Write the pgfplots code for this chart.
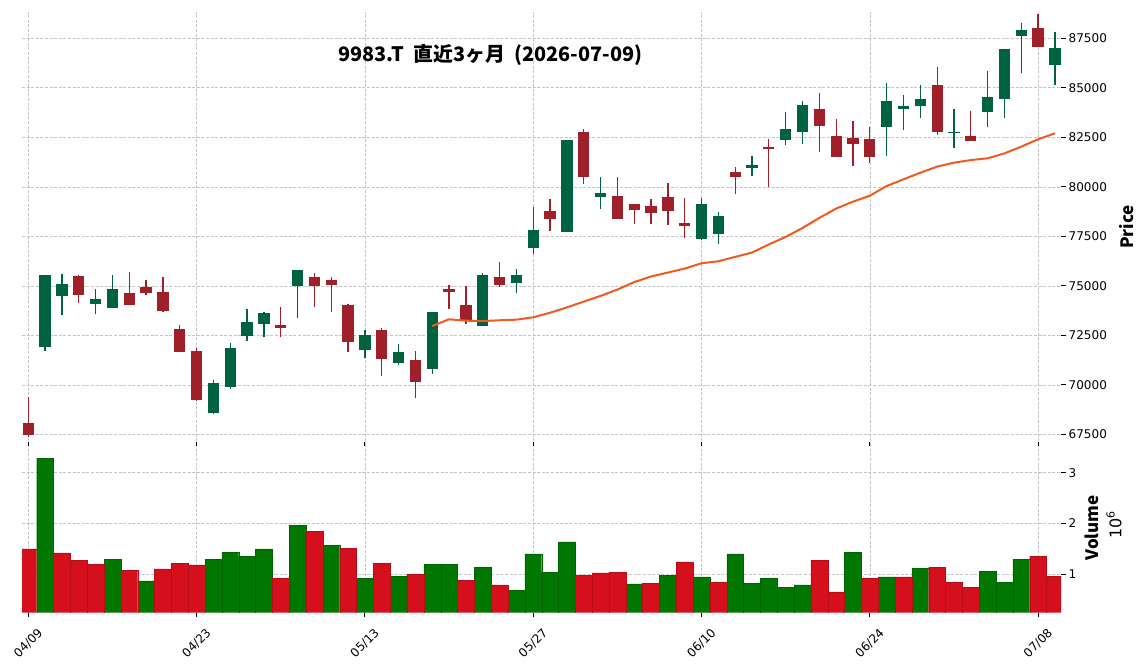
\documentclass[border=0pt]{standalone}
\usepackage{pgfplots}
\usepackage{pgfplotstable}
\pgfplotsset{compat=1.18}
\usepackage{fontspec}
\setmainfont{DejaVu Sans}
\newfontfamily\cjk{Noto Sans CJK JP}
\definecolor{cup}{HTML}{00633F}
\definecolor{cdn}{HTML}{A0202A}
\definecolor{vup}{HTML}{007700}
\definecolor{vdn}{HTML}{D5101C}
\definecolor{maline}{HTML}{F05A1E}
\definecolor{gridc}{HTML}{C4C4C4}

% rising candles (close >= open): index open high low close
\pgfplotstableread{
i o h l c
1 71930 75560 71710 75550
2 74500 75580 73510 75090
4 74100 74820 73560 74340
5 73900 75550 73880 74840
11 68590 70230 68540 70090
12 69910 72100 69800 71860
13 72480 73810 72230 73170
14 73090 73680 72400 73630
16 75010 75810 73360 75800
20 71770 72770 71340 72520
22 71100 72050 71020 71660
24 70820 73700 70550 73680
27 72970 75660 72950 75550
29 75160 75840 74620 75550
30 76930 79000 76590 77820
32 77720 82380 77700 82360
34 79500 80480 78870 79690
40 77380 79420 77300 79130
41 77630 78710 77100 78530
43 80970 81540 80530 81100
45 82380 83760 82100 82920
46 82780 84330 82150 84130
51 83040 85230 81560 84350
52 83950 84620 82870 84080
53 84100 85130 83460 84440
55 82710 83920 81950 82750
57 83790 85860 83010 84520
58 84440 86960 83460 86950
59 87630 88260 85730 87920
61 86170 87800 85130 87010
}\CandUp

% falling candles (close < open)
\pgfplotstableread{
i o h l c
0 68090 69370 67370 67450
3 75500 75530 74120 74550
6 74640 75680 74020 74050
7 74940 75280 74550 74640
8 74690 75430 73700 73730
9 72820 73010 71650 71670
10 71710 71850 69200 69250
15 73020 73920 72400 72890
17 75450 75630 73950 75010
18 75290 75430 73690 75060
19 74030 74100 71640 72180
21 72770 72860 70460 71320
23 71250 71710 69320 70140
25 74840 75030 73810 74700
26 74030 74990 73070 73240
28 75450 76190 74930 75060
31 78780 79370 77750 78390
33 82770 82910 80130 80510
35 79540 80480 78380 78390
36 79130 79150 78110 78840
37 79030 79370 78110 78690
38 79490 80180 78060 78790
39 78170 79420 77400 78040
42 80750 80990 79620 80510
44 82010 82400 79980 81930
47 83930 84720 81740 83090
48 82570 83410 81500 81520
49 82480 83310 81040 82180
50 82420 83040 81190 81520
54 85140 86070 82620 82780
56 82570 83830 82300 82330
60 88020 88730 87050 87080
}\CandDn

% 25-day moving average
\pgfplotstableread{
i ma
24 72970
25 73310
26 73240
27 73220
28 73260
29 73290
30 73410
31 73640
32 73910
33 74200
34 74490
35 74810
36 75190
37 75470
38 75670
39 75870
40 76140
41 76240
42 76460
43 76680
44 77090
45 77470
46 77920
47 78430
48 78900
49 79250
50 79550
51 80040
52 80380
53 80710
54 81020
55 81220
56 81350
57 81440
58 81690
59 82030
60 82400
61 82700
}\MA

% volume (millions), close above previous close
\pgfplotstableread{
i v
1 3.29
5 1.297
7 0.863
11 1.297
12 1.435
13 1.356
14 1.495
16 1.968
18 1.573
20 0.922
22 0.961
24 1.198
25 1.198
27 1.139
29 0.685
30 1.396
31 1.040
32 1.633
36 0.804
38 0.981
40 0.942
42 1.396
43 0.823
44 0.922
45 0.744
46 0.784
49 1.435
51 0.942
53 1.119
57 1.060
58 0.843
59 1.297
}\VolUp

% volume (millions), close below previous close
\pgfplotstableread{
i v
0 1.495
2 1.416
3 1.277
4 1.198
6 1.080
8 1.100
9 1.218
10 1.179
15 0.922
17 1.849
19 1.514
21 1.218
23 1.001
26 0.882
28 0.784
33 0.981
34 1.021
35 1.040
37 0.823
39 1.238
41 0.843
47 1.277
48 0.646
50 0.922
52 0.942
54 1.139
55 0.843
56 0.744
60 1.356
61 0.961
}\VolDn

\pgfplotsset{
  panel/.style={
    scale only axis, width=1039pt,
    xmin=-0.374, xmax=61.36,
    axis line style={draw=none},
    grid=major,
    grid style={color=gridc, line width=0.6pt, dash pattern=on 3pt off 1.6pt},
    xtick={0,10,...,60},
    tick align=outside,
    major tick length=4.5pt,
    tick style={black, line width=0.9pt},
    ytick pos=right,
    yticklabel pos=right,
    tick label style={font=\fontsize{12}{14}\selectfont, text=black},
    yticklabel style={anchor=west, inner sep=0pt, xshift=3pt},
    /pgf/number format/assume math mode=true,
    /pgf/number format/1000 sep={},
    scaled y ticks=false,
    clip=true,
  },
}

\begin{document}
\begin{tikzpicture}
\useasboundingbox (0,0) rectangle (1145pt,670pt);

\begin{axis}[panel, at={(22pt,224pt)}, anchor=south west, height=434pt,
  ymin=66911, ymax=88828,
  ytick={67500,70000,...,87500},
  xticklabels={}, xtick style={draw=none}]
  \addplot[draw=none, mark=none, error bars/.cd, y dir=plus, y explicit, error mark=none,
    error bar style={line width=1.3pt, draw=cup}]
    table[x=i, y=l, y error plus expr={\thisrow{h}-\thisrow{l}}]{\CandUp};
  \addplot[draw=none, mark=none, error bars/.cd, y dir=plus, y explicit, error mark=none,
    error bar style={line width=1.3pt, draw=cdn}]
    table[x=i, y=l, y error plus expr={\thisrow{h}-\thisrow{l}}]{\CandDn};
  \addplot[draw=none, mark=none, error bars/.cd, y dir=plus, y explicit, error mark=none,
    error bar style={line width=11.3pt, draw=cup}]
    table[x=i, y=o, y error plus expr={\thisrow{c}-\thisrow{o}}]{\CandUp};
  \addplot[draw=none, mark=none, error bars/.cd, y dir=plus, y explicit, error mark=none,
    error bar style={line width=11.3pt, draw=cdn}]
    table[x=i, y=c, y error plus expr={\thisrow{o}-\thisrow{c}}]{\CandDn};
  \addplot[color=maline, line width=2pt, mark=none] table[x=i, y=ma]{\MA};
\end{axis}

\begin{axis}[panel, at={(22pt,57.3pt)}, anchor=south west, height=166.7pt,
  ymin=0.237, ymax=3.528,
  ytick={1,2,3},
  xticklabels={04/09,04/23,05/13,05/27,06/10,06/24,07/08},
  xticklabel style={anchor=center, yshift=-26pt, rotate=45}]
  \addplot[ybar, bar width=1, bar shift=0pt, fill=vup, draw=vup!85!black, line width=0.25pt]
    table[x=i, y=v]{\VolUp};
  \addplot[ybar, bar width=1, bar shift=0pt, fill=vdn, draw=vdn!85!black, line width=0.25pt]
    table[x=i, y=v]{\VolDn};
\end{axis}

\node at (490.5pt,615pt) {\cjk\bfseries\fontsize{19.9}{24}\selectfont 9983.T\ \ 直近3ヶ月\ \ (2026-07-09)};
\node[rotate=90] at (1126.7pt,443pt) {\cjk\bfseries\fontsize{17}{20}\selectfont Price};
\node[rotate=90] at (1091.7pt,142pt) {\cjk\bfseries\fontsize{17}{20}\selectfont Volume};
\node[rotate=90] at (1114pt,145pt) {\fontsize{16}{18}\selectfont 10\raisebox{0.75ex}{\fontsize{11}{12}\selectfont 6}};
\end{tikzpicture}
\end{document}
